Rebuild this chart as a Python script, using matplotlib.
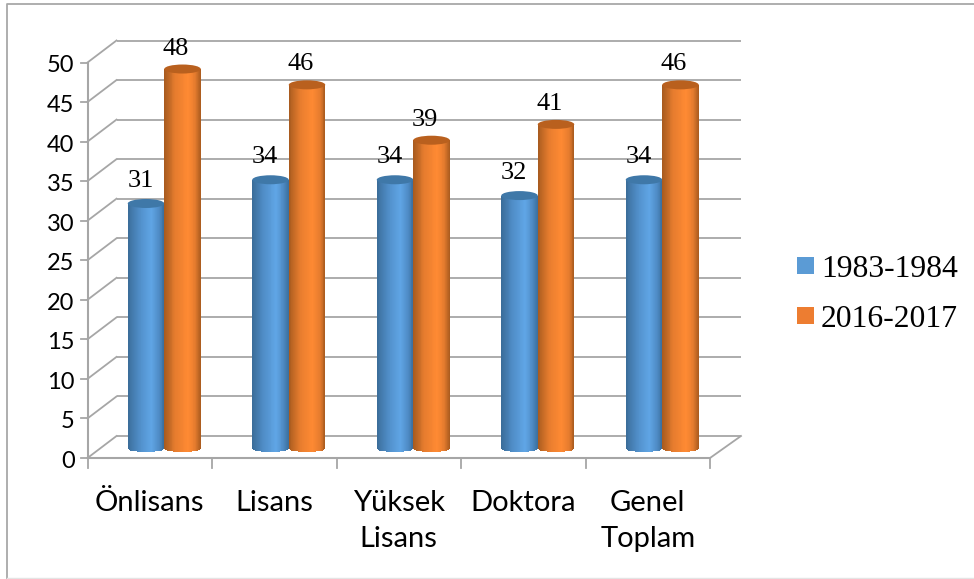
import numpy as np
import matplotlib
matplotlib.use("Agg")
import matplotlib.pyplot as plt
from matplotlib.patches import Ellipse, Rectangle
from matplotlib.lines import Line2D
from matplotlib.transforms import ScaledTranslation
from matplotlib.colors import LinearSegmentedColormap

categories = ["Önlisans", "Lisans", "Yüksek\nLisans", "Doktora", "Genel\nToplam"]
series_names = ["1983-1984", "2016-2017"]
values_1983 = [31, 34, 34, 32, 34]
values_2016 = [48, 46, 39, 41, 46]
yticks = list(range(0, 55, 5))

W, H = 974, 579
fig = plt.figure(figsize=(W/100, H/100), dpi=100)
fig.patch.set_facecolor("white")

X0, X1, Y0, Y50 = 87.5, 710, 458, 62.5
ax = fig.add_axes([X0/W, 1-Y0/H, (X1-X0)/W, (Y0-Y50)/H])
ax.set_xlim(0, 5)
ax.set_ylim(0, 50)
ax.axis("off")
PXX = (X1-X0)/5
PX = (Y0-Y50)/50

def shift(dx, dy):
    return ax.transData + ScaledTranslation(dx/100, -dy/100, fig.dpi_scale_trans)

GRID = "#A6A6A6"
DX, DY = 29, -22
back = shift(DX, DY)
inv = ax.transData.inverted()
for v in yticks:
    ax.plot([0, 5+2/PXX], [v, v], color=GRID, lw=1.3, transform=back, clip_on=False, zorder=1, solid_capstyle="butt")
    q0 = inv.transform(ax.transData.transform((0, v)))
    q1 = inv.transform(back.transform((0, v)))
    ax.plot([q0[0], q1[0]], [q0[1], q1[1]], color=GRID, lw=1.3, clip_on=False, zorder=1)
    ax.plot([q0[0]-7/PXX, q0[0]], [v, v], color=GRID, lw=1.3, clip_on=False, zorder=1)
    ax.text(-13/PXX, v-1.5/PX, str(v), ha="right", va="center_baseline", fontsize=17, family="Lato", color="black", clip_on=False)

# floor
ax.plot([0, 0], [0, 50], color=GRID, lw=1.5, clip_on=False, zorder=1)
ax.plot([0, 5], [0, 0], color=GRID, lw=1.5, clip_on=False, zorder=1)
p1 = inv.transform(back.transform((5+2/PXX, 0)))
ax.plot([5, p1[0]], [0, p1[1]], color=GRID, lw=1.3, clip_on=False, zorder=1)
for i in range(6):
    ax.plot([i, i], [0, -10/PX], color=GRID, lw=1.3, clip_on=False, zorder=1)

for i, c in enumerate(categories):
    ax.text(i+0.5, -4.05, c, ha="center", va="top", fontsize=21, family="Lato",
            linespacing=1.46, color="black", clip_on=False)

blue = LinearSegmentedColormap.from_list("b", [(0, "#3A6C98"), (0.3, "#4F8CC6"), (0.65, "#60A6E6"), (0.85, "#4F8CC6"), (1, "#3A6E9C")])
orange = LinearSegmentedColormap.from_list("o", [(0, "#A65A1E"), (0.3, "#E67C2E"), (0.65, "#FF8A33"), (0.85, "#E67C2E"), (1, "#A85A1E")])

BW = 36.5/PXX
OFF = (14.5, -9.3)
bt = shift(*OFF)
N = 40
for s, (vals, cmap, top) in enumerate([(values_1983, blue, "#3F78A8"), (values_2016, orange, "#B9601E")]):
    for i, v in enumerate(vals):
        left = i + 0.5 + (s-1)*BW
        edges = np.linspace(0, 1, N+1)
        for k in range(N):
            t = (edges[k]+edges[k+1])/2
            depth = 3.2*np.sqrt(max(0, 1-(2*t-1)**2))/PX
            ax.bar(left+edges[k]*BW, v+depth, width=BW/N*1.15, bottom=-depth, align="edge",
                   color=cmap(t), lw=0, transform=bt, clip_on=False, zorder=3+s+i*0.01)
        ax.add_patch(Ellipse((left+BW/2, v), BW, 9/PX, facecolor=top, edgecolor="none",
                             transform=bt, clip_on=False, zorder=3+s+i*0.01+0.005))
        lab_dx = (-5.5 if s == 0 else -6.5)/PXX
        lab_dy = (16.5 if s == 0 else 14.5)/PX
        ax.text(left+BW/2+lab_dx, v+lab_dy, str(v), ha="center", va="baseline",
                fontsize=19, family="Liberation Serif", color="black", clip_on=False, zorder=6, transform=bt)

# legend
for name, col, yc in [(series_names[0], "#5B9BD5", 266), (series_names[1], "#ED7D31", 316)]:
    fig.patches.append(Rectangle((797/W, 1-(yc+8)/H), 17/W, 17/H, transform=fig.transFigure, facecolor=col, edgecolor="none"))
    fig.text(821/W, 1-yc/H, name, ha="left", va="center_baseline", fontsize=22.8, family="Liberation Serif", color="black")

# outer frame: left and top edges, faint bottom edge
def frame(xs, ys, color, lw):
    fig.add_artist(Line2D([x/W for x in xs], [1-y/H for y in ys], color=color, lw=lw, transform=fig.transFigure))
frame([6.8, 6.8, 974], [579, 3.5, 3.5], "#A8A8A8", 1.3)
frame([7, 974], [578, 578], "#E4E4E4", 1.0)

fig.savefig("out.png", dpi=100)
